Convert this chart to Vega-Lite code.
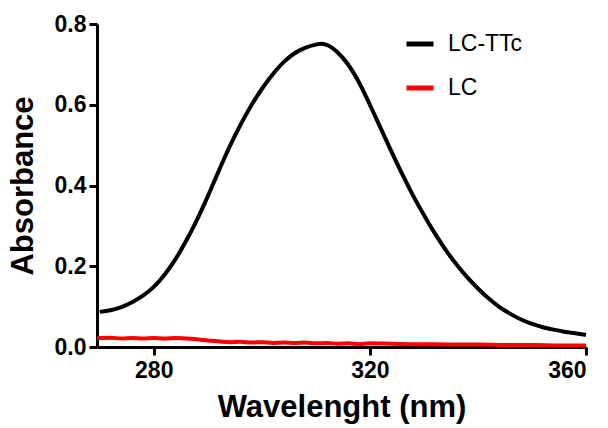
{
  "$schema": "https://vega.github.io/schema/vega-lite/v6.json",
  "autosize": {"type": "none"},
  "padding": {"left": 97, "top": 24, "right": 22, "bottom": 81},
  "width": 489,
  "height": 323,
  "background": "white",
  "config": {
    "view": {"stroke": null},
    "axis": {
      "grid": false,
      "domainColor": "black",
      "domainWidth": 3,
      "tickColor": "black",
      "tickWidth": 3,
      "tickSize": 8,
      "labelFont": "Liberation Sans",
      "labelFontWeight": "bold",
      "labelFontSize": 23,
      "labelColor": "black",
      "titleFont": "Liberation Sans",
      "titleFontWeight": "bold",
      "titleFontSize": 31,
      "titleColor": "black"
    }
  },
  "datasets": {
    "spectra": [
      {"wl": 270, "abs": 0.087, "s": "LC-TTc"},
      {"wl": 272, "abs": 0.091, "s": "LC-TTc"},
      {"wl": 274, "abs": 0.099, "s": "LC-TTc"},
      {"wl": 276, "abs": 0.111, "s": "LC-TTc"},
      {"wl": 278, "abs": 0.127, "s": "LC-TTc"},
      {"wl": 280, "abs": 0.149, "s": "LC-TTc"},
      {"wl": 282, "abs": 0.179, "s": "LC-TTc"},
      {"wl": 284, "abs": 0.217, "s": "LC-TTc"},
      {"wl": 286, "abs": 0.263, "s": "LC-TTc"},
      {"wl": 288, "abs": 0.315, "s": "LC-TTc"},
      {"wl": 290, "abs": 0.373, "s": "LC-TTc"},
      {"wl": 292, "abs": 0.435, "s": "LC-TTc"},
      {"wl": 294, "abs": 0.495, "s": "LC-TTc"},
      {"wl": 296, "abs": 0.549, "s": "LC-TTc"},
      {"wl": 298, "abs": 0.597, "s": "LC-TTc"},
      {"wl": 300, "abs": 0.639, "s": "LC-TTc"},
      {"wl": 302, "abs": 0.675, "s": "LC-TTc"},
      {"wl": 304, "abs": 0.705, "s": "LC-TTc"},
      {"wl": 306, "abs": 0.727, "s": "LC-TTc"},
      {"wl": 308, "abs": 0.741, "s": "LC-TTc"},
      {"wl": 310, "abs": 0.749, "s": "LC-TTc"},
      {"wl": 311, "abs": 0.751, "s": "LC-TTc"},
      {"wl": 312, "abs": 0.748, "s": "LC-TTc"},
      {"wl": 314, "abs": 0.730, "s": "LC-TTc"},
      {"wl": 316, "abs": 0.699, "s": "LC-TTc"},
      {"wl": 318, "abs": 0.655, "s": "LC-TTc"},
      {"wl": 320, "abs": 0.600, "s": "LC-TTc"},
      {"wl": 322, "abs": 0.542, "s": "LC-TTc"},
      {"wl": 324, "abs": 0.484, "s": "LC-TTc"},
      {"wl": 326, "abs": 0.428, "s": "LC-TTc"},
      {"wl": 328, "abs": 0.375, "s": "LC-TTc"},
      {"wl": 330, "abs": 0.327, "s": "LC-TTc"},
      {"wl": 332, "abs": 0.282, "s": "LC-TTc"},
      {"wl": 334, "abs": 0.241, "s": "LC-TTc"},
      {"wl": 336, "abs": 0.205, "s": "LC-TTc"},
      {"wl": 338, "abs": 0.173, "s": "LC-TTc"},
      {"wl": 340, "abs": 0.145, "s": "LC-TTc"},
      {"wl": 342, "abs": 0.120, "s": "LC-TTc"},
      {"wl": 344, "abs": 0.099, "s": "LC-TTc"},
      {"wl": 346, "abs": 0.082, "s": "LC-TTc"},
      {"wl": 348, "abs": 0.068, "s": "LC-TTc"},
      {"wl": 350, "abs": 0.057, "s": "LC-TTc"},
      {"wl": 352, "abs": 0.049, "s": "LC-TTc"},
      {"wl": 354, "abs": 0.043, "s": "LC-TTc"},
      {"wl": 356, "abs": 0.038, "s": "LC-TTc"},
      {"wl": 358, "abs": 0.034, "s": "LC-TTc"},
      {"wl": 360, "abs": 0.030, "s": "LC-TTc"},
      {"wl": 269.5, "abs": 0.022, "s": "LC"},
      {"wl": 272, "abs": 0.023, "s": "LC"},
      {"wl": 274, "abs": 0.021, "s": "LC"},
      {"wl": 276, "abs": 0.022, "s": "LC"},
      {"wl": 278, "abs": 0.021, "s": "LC"},
      {"wl": 280, "abs": 0.022, "s": "LC"},
      {"wl": 282, "abs": 0.021, "s": "LC"},
      {"wl": 284, "abs": 0.022, "s": "LC"},
      {"wl": 286, "abs": 0.021, "s": "LC"},
      {"wl": 288, "abs": 0.019, "s": "LC"},
      {"wl": 290, "abs": 0.016, "s": "LC"},
      {"wl": 292, "abs": 0.014, "s": "LC"},
      {"wl": 294, "abs": 0.012, "s": "LC"},
      {"wl": 296, "abs": 0.013, "s": "LC"},
      {"wl": 298, "abs": 0.011, "s": "LC"},
      {"wl": 300, "abs": 0.012, "s": "LC"},
      {"wl": 302, "abs": 0.010, "s": "LC"},
      {"wl": 304, "abs": 0.011, "s": "LC"},
      {"wl": 306, "abs": 0.010, "s": "LC"},
      {"wl": 308, "abs": 0.011, "s": "LC"},
      {"wl": 310, "abs": 0.009, "s": "LC"},
      {"wl": 312, "abs": 0.010, "s": "LC"},
      {"wl": 314, "abs": 0.008, "s": "LC"},
      {"wl": 316, "abs": 0.009, "s": "LC"},
      {"wl": 318, "abs": 0.007, "s": "LC"},
      {"wl": 320, "abs": 0.009, "s": "LC"},
      {"wl": 324, "abs": 0.008, "s": "LC"},
      {"wl": 328, "abs": 0.007, "s": "LC"},
      {"wl": 332, "abs": 0.007, "s": "LC"},
      {"wl": 336, "abs": 0.006, "s": "LC"},
      {"wl": 340, "abs": 0.006, "s": "LC"},
      {"wl": 345, "abs": 0.005, "s": "LC"},
      {"wl": 350, "abs": 0.005, "s": "LC"},
      {"wl": 355, "abs": 0.004, "s": "LC"},
      {"wl": 360, "abs": 0.004, "s": "LC"}
    ]
  },
  "data": {"name": "spectra"},
  "mark": {"type": "line", "strokeWidth": 4, "interpolate": "monotone", "clip": false},
  "encoding": {
    "x": {
      "field": "wl",
      "type": "quantitative",
      "title": "Wavelenght (nm)",
      "scale": {"domain": [269.5, 360], "nice": false, "zero": false},
      "axis": {"values": [280, 320, 360], "labelPadding": 4, "titlePadding": 10}
    },
    "y": {
      "field": "abs",
      "type": "quantitative",
      "title": "Absorbance",
      "scale": {"domain": [0, 0.8], "nice": false},
      "axis": {"values": [0, 0.2, 0.4, 0.6, 0.8], "format": ".1f", "labelPadding": 3, "titlePadding": 15}
    },
    "color": {
      "field": "s",
      "type": "nominal",
      "sort": ["LC-TTc", "LC"],
      "scale": {"domain": ["LC-TTc", "LC"], "range": ["#000000", "#ff0000"]},
      "legend": {
        "title": null,
        "orient": "none",
        "legendX": 307,
        "legendY": 4,
        "padding": 0,
        "symbolType": "stroke",
        "symbolSize": 729,
        "symbolStrokeWidth": 5,
        "labelFont": "Liberation Sans",
        "labelFontSize": 23,
        "labelColor": "black",
        "labelOffset": 12,
        "rowPadding": 16
      }
    }
  }
}
